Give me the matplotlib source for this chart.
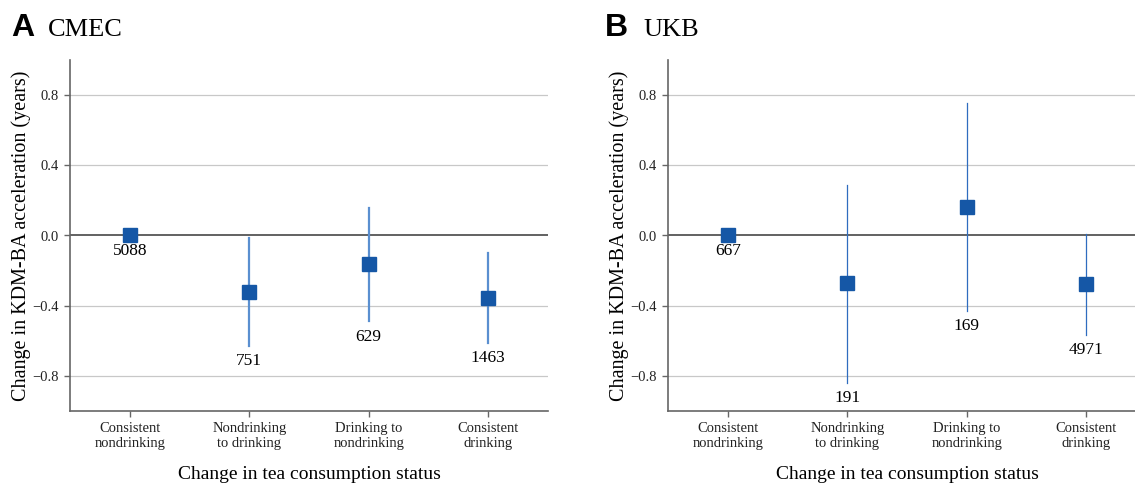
import matplotlib
matplotlib.use("Agg")
import matplotlib.pyplot as plt

categories = ["Consistent\nnondrinking", "Nondrinking\nto drinking",
              "Drinking to\nnondrinking", "Consistent\ndrinking"]

cmec_est = [0.0, -0.32, -0.165, -0.355]
cmec_lo = [None, -0.63, -0.49, -0.61]
cmec_hi = [None, -0.015, 0.155, -0.10]
cmec_n = ["5088", "751", "629", "1463"]

ukb_est = [0.0, -0.27, 0.16, -0.275]
ukb_lo = [None, -0.84, -0.43, -0.565]
ukb_hi = [None, 0.29, 0.755, 0.01]
ukb_n = ["667", "191", "169", "4971"]

yticks = [-0.8, -0.4, 0.0, 0.4, 0.8]
ytick_labels = ["\u22120.8", "\u22120.4", "0.0", "0.4", "0.8"]

serif = "Liberation Serif"
mcolor = "#1557a6"

fig = plt.figure(figsize=(11.35, 4.86), dpi=100)

def panel(ax, est, lo, hi, ns, ecolor, elw):
    x = list(range(len(categories)))
    ax.set_xlim(-0.5, 3.5)
    ax.set_ylim(-1.0, 1.0)
    for t in [-0.8, -0.4, 0.4, 0.8]:
        ax.axhline(t, color="#c8c8c8", lw=0.9, zorder=0)
    ax.axhline(0, color="#555555", lw=1.3, zorder=1)
    for i in x:
        if lo[i] is not None:
            ax.plot([i, i], [lo[i], hi[i]], color=ecolor, lw=elw, zorder=2)
        ax.plot([i], [est[i]], marker="s", ms=10, color=mcolor,
                mec=mcolor, zorder=3, ls="none")
        base = lo[i] if lo[i] is not None else est[i]
        ax.annotate(ns[i], (i, base), xytext=(0, -11), textcoords="offset points",
                    ha="center", va="center", fontsize=12.5, family=serif)
    ax.set_xticks(x)
    ax.set_xticklabels(categories, fontsize=10.5, family=serif, linespacing=1.15)
    ax.set_yticks(yticks)
    ax.set_yticklabels(ytick_labels, fontsize=10.5, family=serif)
    for s in ["top", "right"]:
        ax.spines[s].set_visible(False)
    for s in ["left", "bottom"]:
        ax.spines[s].set_color("#666666")
        ax.spines[s].set_linewidth(1.2)
    ax.tick_params(axis="both", colors="#666666", labelcolor="#222222",
                   length=4, width=1.0, pad=4)
    ax.set_ylabel("Change in KDM-BA acceleration (years)", fontsize=14.5,
                  family=serif, labelpad=1)
    ax.set_xlabel("Change in tea consumption status", fontsize=14,
                  family=serif, labelpad=12)

axA = fig.add_axes([70/1135, 75/486, 478/1135, 351/486])
panel(axA, cmec_est, cmec_lo, cmec_hi, cmec_n, "#5a8fd0", 1.6)
axB = fig.add_axes([668/1135, 75/486, 478/1135, 351/486])
panel(axB, ukb_est, ukb_lo, ukb_hi, ukb_n, "#2f6cbf", 0.9)

fig.text(11/1135, 1 - 36/486, "A", fontsize=23, fontweight="bold",
         family="Liberation Sans", va="baseline")
fig.text(48/1135, 1 - 36/486, "CMEC", fontsize=19, family=serif, va="baseline")
fig.text(605/1135, 1 - 36/486, "B", fontsize=23, fontweight="bold",
         family="Liberation Sans", va="baseline")
fig.text(643/1135, 1 - 36/486, "UKB", fontsize=19, family=serif, va="baseline")

fig.savefig("out.png", dpi=100)
